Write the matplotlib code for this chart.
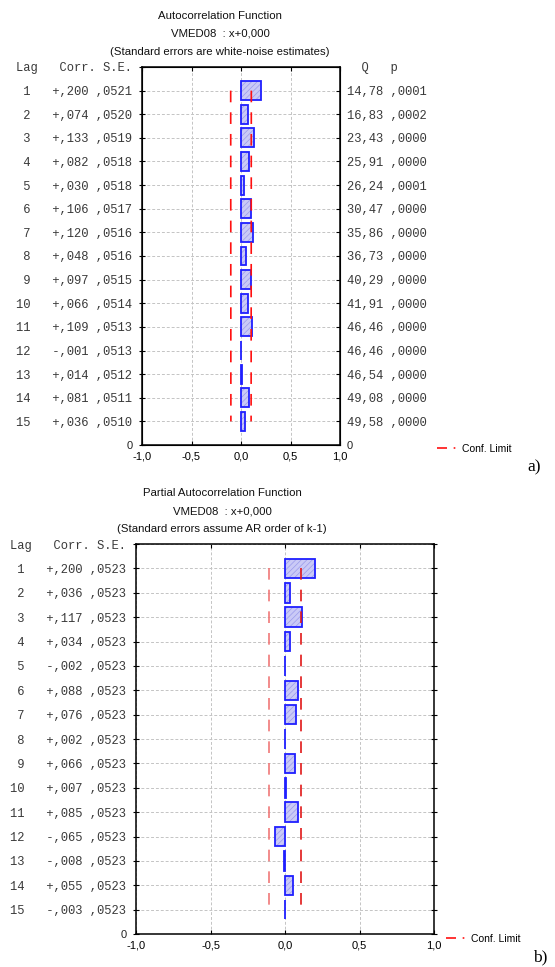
import numpy as np
import matplotlib
matplotlib.use("Agg")
import matplotlib.pyplot as plt
from matplotlib.lines import Line2D

# ---------------------------------------------------------------- data
lags = list(range(1, 16))

acf_corr = [0.200, 0.074, 0.133, 0.082, 0.030, 0.106, 0.120, 0.048,
            0.097, 0.066, 0.109, -0.001, 0.014, 0.081, 0.036]
acf_se = [0.0521, 0.0520, 0.0519, 0.0518, 0.0518, 0.0517, 0.0516, 0.0516,
          0.0515, 0.0514, 0.0513, 0.0513, 0.0512, 0.0511, 0.0510]
acf_q = [14.78, 16.83, 23.43, 25.91, 26.24, 30.47, 35.86, 36.73,
         40.29, 41.91, 46.46, 46.46, 46.54, 49.08, 49.58]
acf_p = [0.0001, 0.0002, 0.0000, 0.0000, 0.0001, 0.0000, 0.0000, 0.0000,
         0.0000, 0.0000, 0.0000, 0.0000, 0.0000, 0.0000, 0.0000]

pacf_corr = [0.200, 0.036, 0.117, 0.034, -0.002, 0.088, 0.076, 0.002,
             0.066, 0.007, 0.085, -0.065, -0.008, 0.055, -0.003]
pacf_se = [0.0523] * 15

xtick_vals = [-1.0, -0.5, 0.0, 0.5, 1.0]
xtick_labels = ["-1,0", "-0,5", "0,0", "0,5", "1,0"]

acf_titles = ["Autocorrelation Function", "VMED08  : x+0,000",
              "(Standard errors are white-noise estimates)"]
pacf_titles = ["Partial Autocorrelation Function", "VMED08  : x+0,000",
               "(Standard errors assume AR order of k-1)"]

SANS = "Liberation Sans"
MONO = "Liberation Mono"
SERIF = "Liberation Serif"
W, H = 555, 967

plt.rcParams["hatch.linewidth"] = 0.5


def fcorr(c):
    return ("+" if c >= 0 else "-") + ",%03d" % round(abs(c) * 1000)


def fse(s):
    return ",%04d" % round(s * 10000)


def fq(q):
    return ("%.2f" % q).replace(".", ",")


def panel(ax, corr, se, lcol, rcol):
    ypos = [16 - k for k in lags]
    # hatched fill then blue outline
    ax.barh(ypos, corr, height=0.8, color="#cacaf6", edgecolor="#9a9aec",
            hatch="//////", linewidth=0, zorder=3)
    ax.barh(ypos, corr, height=0.8, fill=False, edgecolor="#1f1fff",
            linewidth=1.3, zorder=4)
    lim = 2 * np.array(se)
    ax.plot(-lim, ypos, color=lcol, lw=1.2, dashes=(7, 6), zorder=5)
    ax.plot(lim, ypos, color=rcol, lw=1.2, dashes=(7, 6), zorder=5)

    ax.set_xlim(-1, 1)
    ax.set_ylim(0, 16)
    ax.set_xticks(xtick_vals)
    ax.set_xticklabels(xtick_labels, fontfamily=SANS, fontsize=8)
    ax.grid(True, color="#c4c4c4", lw=0.7, ls=(0, (3, 2)), zorder=0)
    ax.set_axisbelow(True)

    ylabels = ["0"] + ["%2d   %s %s" % (k, fcorr(c), fse(s))
                       for k, c, s in zip(lags, corr, se)] + ["Lag   Corr. S.E."]
    ax.set_yticks([0] + ypos + [16])
    ax.set_yticklabels(ylabels)
    for i, t in enumerate(ax.get_yticklabels()):
        t.set_fontfamily(SANS if i == 0 else MONO)
        t.set_fontsize(8 if i == 0 else 8.7)
        t.set_color("#222222" if i == 0 else "#3a3a3a")
    ax.tick_params(axis="y", direction="inout", length=4, pad=5, right=True)
    ax.tick_params(axis="x", direction="in", length=3, pad=5, top=True)
    for sp in ax.spines.values():
        sp.set_linewidth(1.1)


fig = plt.figure(figsize=(W / 100, H / 100), dpi=100)

# ---------------------------------------------------------------- a) ACF
ax1 = fig.add_axes([142 / W, 1 - 445 / H, 198 / W, 378 / H])
panel(ax1, acf_corr, acf_se, "#ff1010", "#ff1010")

ax1r = ax1.twinx()
ax1r.set_ylim(0, 16)
rlabels = ["0"] + ["%s %s" % (fq(q), fse(p)) for q, p in zip(acf_q, acf_p)] + ["  Q   p"]
ax1r.set_yticks([0] + [16 - k for k in lags] + [16])
ax1r.set_yticklabels(rlabels)
for i, t in enumerate(ax1r.get_yticklabels()):
    t.set_fontfamily(SANS if i == 0 else MONO)
    t.set_fontsize(8 if i == 0 else 8.7)
    t.set_color("#222222" if i == 0 else "#3a3a3a")
ax1r.tick_params(axis="y", direction="in", length=3, pad=5)

for i, s in enumerate(acf_titles):
    fig.text(220 / W, 1 - [16, 34, 52][i] / H, s, ha="center", va="center",
             fontfamily=SANS, fontsize=8.2, color="#111111")

h1 = Line2D([], [], color="#ff1010", lw=1.2, dashes=(6, 4, 1, 4))
ax1.legend([h1], ["Conf. Limit"], loc="center left",
           bbox_to_anchor=(437 / W, 1 - 449 / H), bbox_transform=fig.transFigure,
           frameon=False, handlelength=1.9, handletextpad=0.5,
           borderpad=0, borderaxespad=0, prop={"family": SANS, "size": 7.5})
fig.text(527 / W, 1 - 467 / H, "a)", ha="left", va="center",
         fontfamily=SERIF, fontsize=12.5)

# ---------------------------------------------------------------- b) PACF
ax2 = fig.add_axes([136 / W, 1 - 934 / H, 298 / W, 390 / H])
panel(ax2, pacf_corr, pacf_se, "#f07878", "#e01818")

for i, s in enumerate(pacf_titles):
    fig.text(222 / W, 1 - [493, 511, 529][i] / H, s, ha="center", va="center",
             fontfamily=SANS, fontsize=8.2, color="#111111")

h2 = Line2D([], [], color="#ff1010", lw=1.2, dashes=(6, 4, 1, 4))
ax2.legend([h2], ["Conf. Limit"], loc="center left",
           bbox_to_anchor=(446 / W, 1 - 939 / H), bbox_transform=fig.transFigure,
           frameon=False, handlelength=1.9, handletextpad=0.5,
           borderpad=0, borderaxespad=0, prop={"family": SANS, "size": 7.5})
fig.text(533 / W, 1 - 957 / H, "b)", ha="left", va="center",
         fontfamily=SERIF, fontsize=12.5)

fig.savefig("out.png", dpi=100)
